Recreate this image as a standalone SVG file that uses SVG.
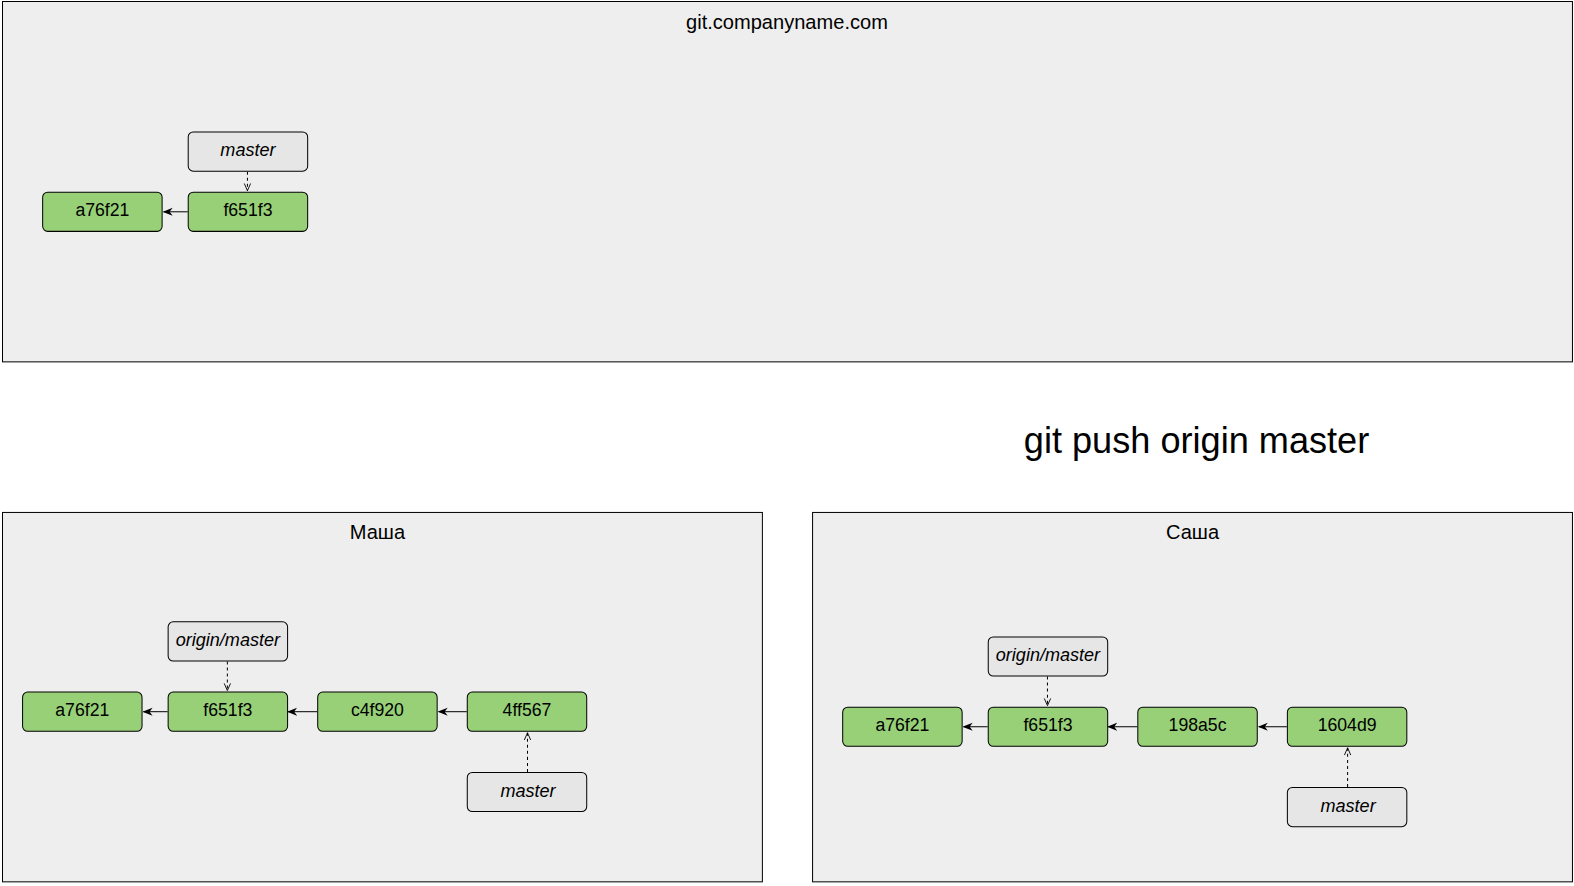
<svg xmlns="http://www.w3.org/2000/svg" width="1574" height="886" viewBox="0 0 1574 886">
<defs>
<style>
.panel{fill:#eeeeee;stroke:#000;stroke-width:1}
.commit{fill:#97d077;stroke:#000;stroke-width:1}
.ref{fill:#e6e6e6;stroke:#000;stroke-width:1}
text{font-family:"Liberation Sans",Arial,sans-serif;fill:#000;text-anchor:middle}
.t{font-size:17.6px}
.i{font-size:18px;font-style:italic}
.title{font-size:20px}
.solid{stroke:#000;stroke-width:1;fill:none;marker-end:url(#ah)}
.dash{stroke:#000;stroke-width:1;fill:none;stroke-dasharray:3 3;marker-end:url(#oh)}
</style>
<marker id="ah" viewBox="0 0 10 10" refX="9" refY="5" markerWidth="10" markerHeight="10" markerUnits="userSpaceOnUse" orient="auto">
<path d="M0,1 L10,5 L0,9 L3,5 Z" fill="#000"/>
</marker>
<marker id="oh" viewBox="0 0 10 10" refX="9" refY="5" markerWidth="9" markerHeight="9" markerUnits="userSpaceOnUse" orient="auto">
<path d="M1,1.5 L9,5 L1,8.5" fill="none" stroke="#000" stroke-width="1"/>
</marker>
</defs>
<g transform="scale(1.0038)">
<g id="server">
<rect class="panel" x="2.5" y="1.5" width="1564" height="359"/>
<text class="title" x="784" y="29">git.companyname.com</text>
</g>
<g id="masha">
<rect class="panel" x="2.5" y="510.5" width="757" height="368"/>
<text class="title" x="376" y="537">Маша</text>
</g>
<g id="sasha">
<rect class="panel" x="809.5" y="510.5" width="757" height="368"/>
<text class="title" x="1188" y="537">Саша</text>
</g>
<g id="cmd">
<text x="1192" y="451" style="font-size:36px">git push origin master</text>
</g>

<g id="connectors">
<path class="solid" d="M187,211 H163"/>
<path class="dash" d="M246.5,171 V190"/>
<path class="solid" d="M167,709 H143"/>
<path class="solid" d="M316,709 H287"/>
<path class="solid" d="M465,709 H437"/>
<path class="dash" d="M226.5,659 V688"/>
<path class="dash" d="M525.5,769 V730"/>
<path class="solid" d="M984,724 H960"/>
<path class="solid" d="M1133,724 H1104"/>
<path class="solid" d="M1282,724 H1254"/>
<path class="dash" d="M1043.5,674 V703"/>
<path class="dash" d="M1342.5,784 V745"/>
</g>

<g id="s_master"><rect class="ref" x="187.5" y="131.5" width="119" height="39" rx="5"/><text class="i" x="247" y="155.5">master</text></g>
<g id="s_f651f3"><rect class="commit" x="187.5" y="191.5" width="119" height="39" rx="5"/><text class="t" x="247" y="215.5">f651f3</text></g>
<g id="s_a76f21"><rect class="commit" x="42.5" y="191.5" width="119" height="39" rx="5"/><text class="t" x="102" y="215.5">a76f21</text></g>

<g id="m_origin"><rect class="ref" x="167.5" y="619.5" width="119" height="39" rx="5"/><text class="i" x="227" y="643.5">origin/master</text></g>
<g id="m_a76f21"><rect class="commit" x="22.5" y="689.5" width="119" height="39" rx="5"/><text class="t" x="82" y="713.5">a76f21</text></g>
<g id="m_f651f3"><rect class="commit" x="167.5" y="689.5" width="119" height="39" rx="5"/><text class="t" x="227" y="713.5">f651f3</text></g>
<g id="m_c4f920"><rect class="commit" x="316.5" y="689.5" width="119" height="39" rx="5"/><text class="t" x="376" y="713.5">c4f920</text></g>
<g id="m_4ff567"><rect class="commit" x="465.5" y="689.5" width="119" height="39" rx="5"/><text class="t" x="525" y="713.5">4ff567</text></g>
<g id="m_master"><rect class="ref" x="465.5" y="769.5" width="119" height="39" rx="5"/><text class="i" x="526" y="793.5">master</text></g>

<g id="a_origin"><rect class="ref" x="984.5" y="634.5" width="119" height="39" rx="5"/><text class="i" x="1044" y="658.5">origin/master</text></g>
<g id="a_a76f21"><rect class="commit" x="839.5" y="704.5" width="119" height="39" rx="5"/><text class="t" x="899" y="728.5">a76f21</text></g>
<g id="a_f651f3"><rect class="commit" x="984.5" y="704.5" width="119" height="39" rx="5"/><text class="t" x="1044" y="728.5">f651f3</text></g>
<g id="a_198a5c"><rect class="commit" x="1133.5" y="704.5" width="119" height="39" rx="5"/><text class="t" x="1193" y="728.5">198a5c</text></g>
<g id="a_1604d9"><rect class="commit" x="1282.5" y="704.5" width="119" height="39" rx="5"/><text class="t" x="1342" y="728.5">1604d9</text></g>
<g id="a_master"><rect class="ref" x="1282.5" y="784.5" width="119" height="39" rx="5"/><text class="i" x="1343" y="808.5">master</text></g>
</g>
</svg>
